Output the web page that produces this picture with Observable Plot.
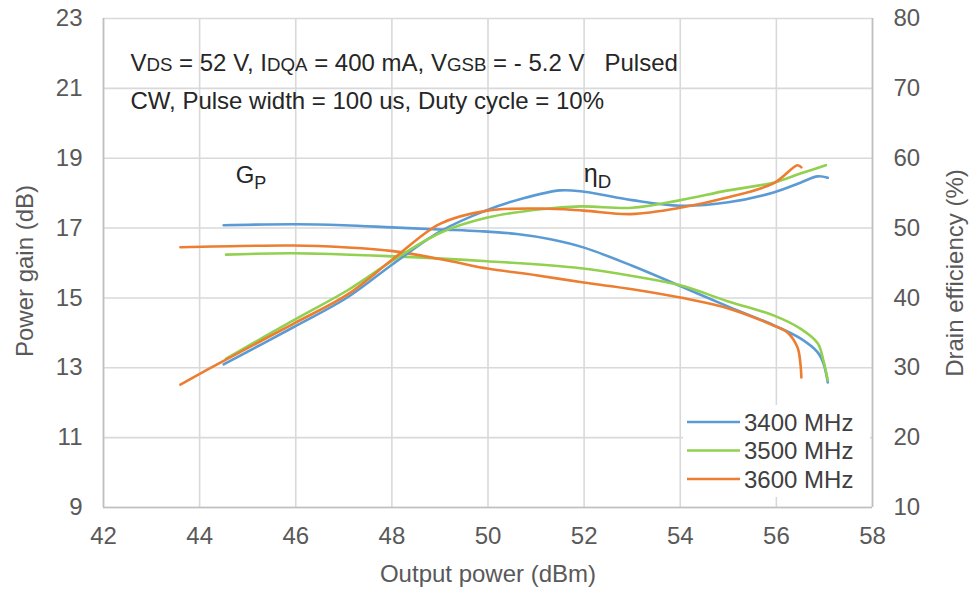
<!DOCTYPE html>
<html><head><meta charset="utf-8">
<script src="https://cdn.jsdelivr.net/npm/d3@7"></script>
<script src="https://cdn.jsdelivr.net/npm/@observablehq/plot@0.6"></script>
<style>
body{margin:0;background:#fff;font-family:"Liberation Sans",Arial,sans-serif;}
#wrap{position:relative;width:971px;height:591px;}
#legend{position:absolute;left:683px;top:405px;width:187px;height:92px;background:#fff;}
</style></head><body><div id="wrap"></div>
<script>
// ---- Data ----
const xTicks = [42,44,46,48,50,52,54,56,58];
const gainTicks = [9,11,13,15,17,19,21,23];
const effTicks = [10,20,30,40,50,60,70,80];
const series = ["3400 MHz","3500 MHz","3600 MHz"];
const colors = ["#5B9BD5","#92D050","#ED7D31"];

// Power gain (dB) vs output power (dBm)
const gainX3400 = [44.5,46,47,48,49,49.84,50.6,51.3,52,53,54,55,55.94,56.5,56.86,56.98,57.07];
const gain3400  = [17.08,17.11,17.08,17.02,16.96,16.91,16.83,16.68,16.44,15.92,15.34,14.75,14.22,13.84,13.44,13.12,12.58];
const gainX3500 = [44.55,45.95,48.03,49.99,51.93,53,54,55,55.94,56.5,56.86,56.98,57.07];
const gain3500  = [16.24,16.28,16.19,16.05,15.85,15.63,15.36,14.9,14.5,14.12,13.7,13.2,12.64];
const gainX3600 = [43.6,45.95,47,48.03,49.16,49.99,51,51.99,53,54,55,55.94,56.23,56.44,56.5,56.52];
const gain3600  = [16.45,16.5,16.45,16.34,16.07,15.84,15.65,15.44,15.25,15.01,14.7,14.21,14.01,13.58,13.12,12.72];

// Drain efficiency (%) vs output power (dBm)
const effX3400 = [44.5,45.95,47.08,48.03,49.0,49.99,50.7,51.5,52,53,54,55,55.94,56.5,56.86,57.07];
const eff3400  = [30.5,35.8,40.1,44.9,49.5,52.6,54.2,55.4,55.2,54.0,53.2,53.7,55.1,56.5,57.4,57.2];
const effX3500 = [44.55,45.95,47.08,48.03,49.0,49.99,51.1,51.93,53,54,55,55.94,56.5,57.03];
const eff3500  = [31.3,36.8,41.1,45.4,49.3,51.5,52.7,53.1,52.9,54.0,55.4,56.5,57.8,59.0];
const effX3600 = [43.6,44.5,45.95,47.08,48.03,49.0,49.99,51.1,51.99,52.97,54,55,55.94,56.44,56.52];
const eff3600  = [27.6,31.0,36.3,40.5,45.6,50.6,52.5,52.8,52.5,52.0,52.9,54.4,56.4,59.0,58.7];

// Annotation texts (segments: [text, relative size, subscript?]) and anchors in data units
const noteSegs = [
  [["V",1],["DS",0.78],[" = 52 V, I",1],["DQA",0.78],[" = 400 mA, V",1],["GSB",0.78],[" = - 5.2 V   Pulsed",1]],
  [["CW, Pulse width = 100 us, Duty cycle = 10%",1]],
  [["G",1],["P",0.75,true]],
  [["\u03B7",1.05],["D",0.78,true]]
];
const noteX = [42.56, 42.56, 44.75, 51.99];
const noteY = [21.51, 20.42, 18.28, 18.31];

// ---- Build ----
const effToGain = e => 9 + (e - 10) * (23 - 9) / (80 - 10);
const gainToEff = g => Math.round(10 + (g - 9) * (80 - 10) / (23 - 9));
const gX = [gainX3400, gainX3500, gainX3600], gY = [gain3400, gain3500, gain3600];
const eX = [effX3400, effX3500, effX3600], eY = [eff3400, eff3500, eff3600];
const gainRows = series.flatMap((s,i) => gX[i].map((x,j) => ({series:s, x, g:gY[i][j]})));
const effRows = series.flatMap((s,i) => eX[i].map((x,j) => ({series:s, x, e:eY[i][j]})));
const notes = noteSegs.map((segs,i) => ({x:noteX[i], y:noteY[i], text:segs.map(s=>s[0]).join("")}));

const FONT = '"Liberation Sans", Arial, sans-serif';
const plot = Plot.plot({
  width: 971, height: 591,
  marginLeft: 103, marginRight: 99, marginTop: 18, marginBottom: 84,
  style: {fontFamily: FONT, fontSize: "24px", color: "#595959", background: "#fff"},
  x: {domain: [42, 58]},
  y: {domain: [9, 23]},
  color: {domain: series, range: colors},
  marks: [
    Plot.gridX(xTicks, {stroke: "#d9d9d9", strokeOpacity: 1, strokeWidth: 1.6}),
    Plot.gridY(gainTicks, {stroke: "#d9d9d9", strokeOpacity: 1, strokeWidth: 1.6}),
    Plot.ruleX([42, 58], {stroke: "#bfbfbf", strokeWidth: 1.6}),
    Plot.ruleY([9], {stroke: "#bfbfbf", strokeWidth: 1.6}),
    Plot.axisX(xTicks, {tickSize: 0, tickPadding: 19, label: null, fill: "#595959", fontSize: 24}),
    Plot.axisY(gainTicks, {anchor: "left", tickSize: 0, tickPadding: 21, label: null, fill: "#595959", fontSize: 24}),
    Plot.axisY(effTicks.map(effToGain), {anchor: "right", tickSize: 0, tickPadding: 21, label: null, fill: "#595959", fontSize: 24, tickFormat: gainToEff}),
    Plot.line(gainRows, {x: "x", y: "g", z: "series", stroke: "series", strokeWidth: 2.6, curve: "catmull-rom"}),
    Plot.line(effRows, {x: "x", y: d => effToGain(d.e), z: "series", stroke: "series", strokeWidth: 2.6, curve: "catmull-rom"}),
    Plot.text(notes, {x: "x", y: "y", text: "text", textAnchor: "start", lineAnchor: "bottom", fill: "#262626", fontSize: 24, className: "notes"}),
    Plot.text(["Output power (dBm)"], {frameAnchor: "bottom", dy: 74, lineAnchor: "bottom", textAnchor: "middle", fill: "#595959", fontSize: 24}),
    Plot.text(["Power gain (dB)"], {frameAnchor: "left", dx: -71, dy: 8, rotate: -90, lineAnchor: "bottom", textAnchor: "middle", fill: "#595959", fontSize: 24}),
    Plot.text(["Drain efficiency (%)"], {frameAnchor: "right", dx: 90, dy: 10, rotate: -90, lineAnchor: "bottom", textAnchor: "middle", fill: "#595959", fontSize: 24})
  ]
});

// rich text: smaller letters / subscripts
d3.select(plot).selectAll("g.notes text").each(function(_, i) {
  const el = d3.select(this);
  el.text(null).style("white-space", "pre");
  noteSegs[i].forEach(([t, s, sub]) => {
    const ts = el.append("tspan").text(t).style("white-space", "pre");
    if (s !== 1) ts.attr("font-size", (24 * s) + "px");
    if (sub) ts.attr("dy", "0.3em");
  });
});

const wrap = document.getElementById("wrap");
wrap.appendChild(plot);

// Legend
const leg = d3.select(wrap).append("div").attr("id", "legend")
  .append("svg").attr("width", 187).attr("height", 92);
series.forEach((s, i) => {
  const cy = 17 + i * 28.5;
  leg.append("line").attr("x1", 4).attr("x2", 57).attr("y1", cy).attr("y2", cy)
    .attr("stroke", colors[i]).attr("stroke-width", 2.6);
  leg.append("text").attr("x", 61).attr("y", cy + 8.5).text(s)
    .attr("font-family", FONT).attr("font-size", 24).attr("fill", "#404040");
});
</script></body></html>
